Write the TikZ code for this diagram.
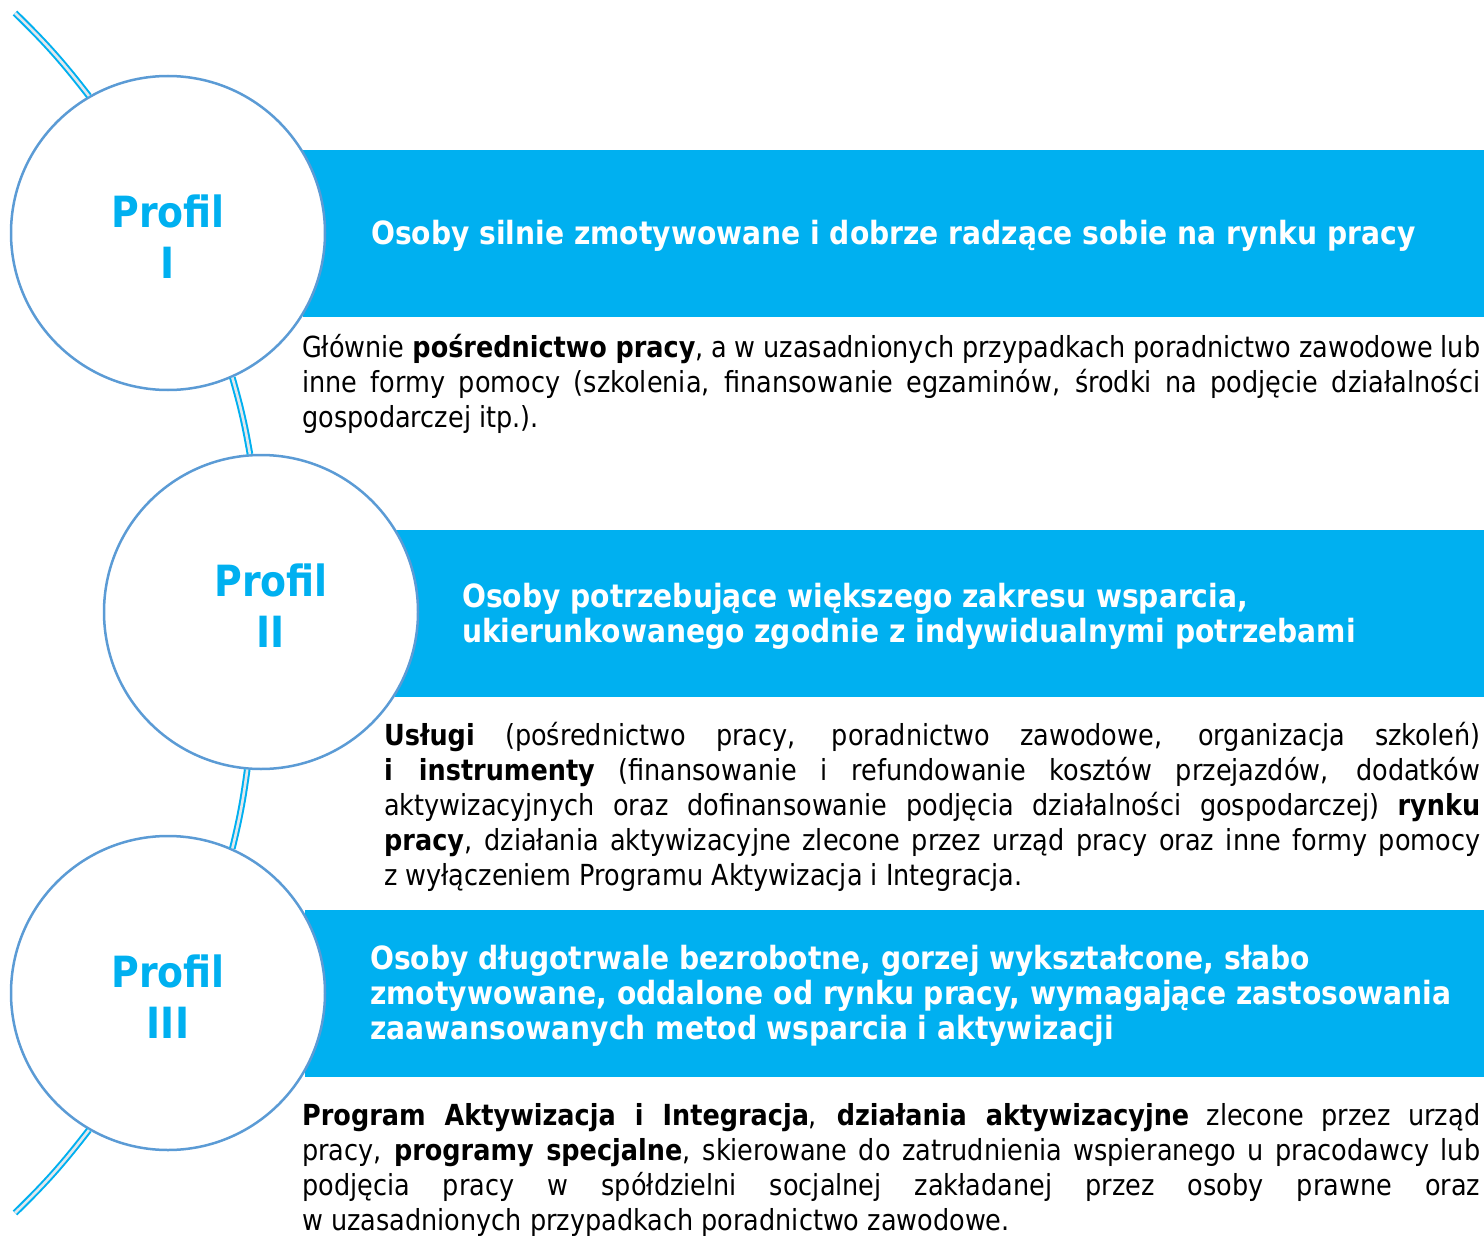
\documentclass[tikz,border=0pt]{standalone}
\usepackage{fontspec}
\setmainfont{DejaVu Sans}[FakeStretch=0.88]
\usetikzlibrary{positioning}
\definecolor{bandcyan}{RGB}{0,176,240}
\definecolor{ringblue}{RGB}{91,155,213}
\definecolor{linkgray}{RGB}{226,231,236}

\begin{document}
\begin{tikzpicture}[
    x=1pt, y=-1pt,
    profile/.style={circle, draw=ringblue, line width=2.5pt, fill=white, minimum size=314pt,
        inner sep=0pt, align=center, text=bandcyan, text height=90pt,
        font=\fontsize{43}{51}\selectfont\bfseries},
    band/.style={fill=bandcyan, minimum width=1200pt, minimum height=167pt, inner sep=0pt, anchor=west},
    title/.style={anchor=west, align=left, text=white, inner sep=0pt, font=\fontsize{32}{35}\selectfont\bfseries},
    body/.style={anchor=base west, inner sep=0pt, text width=1178pt, align=justify, font=\fontsize{29}{35}\selectfont},
    link/.style={draw=bandcyan, line width=2pt, double=linkgray, double distance=2.6pt}
]
    \useasboundingbox (0,0) rectangle (1484,1236);

    % Bands
    \node[band] (band1) at (303,233.5) {};
    \node[band] (band2) at (395,613.5) {};
    \node[band] (band3) at (305,993) {};

    % Profiles
    \node[profile] (p1) at (168,233) {Profil\\I};
    \node[profile, text height=70pt] (p2) at (261,612) {\hspace*{20pt}Profil\\\hspace*{20pt}II};
    \node[profile] (p3) at (168,993) {Profil\\III};

    % Curved links
    \coordinate (topend) at (15,13);
    \coordinate (botend) at (15,1213);
    \draw[link] (topend) to[bend left=4] (p1.120);
    \draw[link] (p1.-66) to[bend left=3] (p2.94);
    \draw[link] (p2.-95) to[bend left=3] (p3.66);
    \draw[link] (p3.-120) to[bend left=4] (botend);

    % Titles
    \node[title] (t1) at (371,236) {Osoby silnie zmotywowane i dobrze radzące sobie na rynku pracy};
    \node[title] (t2) at (462,616) {Osoby potrzebujące większego zakresu wsparcia,\\
        ukierunkowanego zgodnie z indywidualnymi potrzebami};
    \node[title] (t3) at (370,996) {Osoby długotrwale bezrobotne, gorzej wykształcone, słabo\\
        zmotywowane, oddalone od rynku pracy, wymagające zastosowania\\
        zaawansowanych metod wsparcia i aktywizacji};

    % Descriptions
    \node[body] (d1) at (302,357) {\noindent Głównie \textbf{pośrednictwo pracy}, a w uzasadnionych przypadkach poradnictwo zawodowe lub\linebreak
        inne formy pomocy (szkolenia, finansowanie egzaminów, środki na podjęcie działalności\linebreak
        gospodarczej itp.).};
    \node[body, text width=1096pt] (d2) at (384,745) {\noindent \textbf{Usługi} (pośrednictwo pracy, poradnictwo zawodowe, organizacja szkoleń)\linebreak
        \textbf{i instrumenty} (finansowanie i refundowanie kosztów przejazdów, dodatków\linebreak
        aktywizacyjnych oraz dofinansowanie podjęcia działalności gospodarczej) \textbf{rynku}\linebreak
        \textbf{pracy}, działania aktywizacyjne zlecone przez urząd pracy oraz inne formy pomocy\linebreak
        z wyłączeniem Programu Aktywizacja i Integracja.};
    \node[body] (d3) at (302,1125) {\noindent \textbf{Program Aktywizacja i Integracja}, \textbf{działania aktywizacyjne} zlecone przez urząd\linebreak
        pracy, \textbf{programy specjalne}, skierowane do zatrudnienia wspieranego u pracodawcy lub\linebreak
        podjęcia pracy w spółdzielni socjalnej zakładanej przez osoby prawne oraz\linebreak
        w uzasadnionych przypadkach poradnictwo zawodowe.};
\end{tikzpicture}
\end{document}
